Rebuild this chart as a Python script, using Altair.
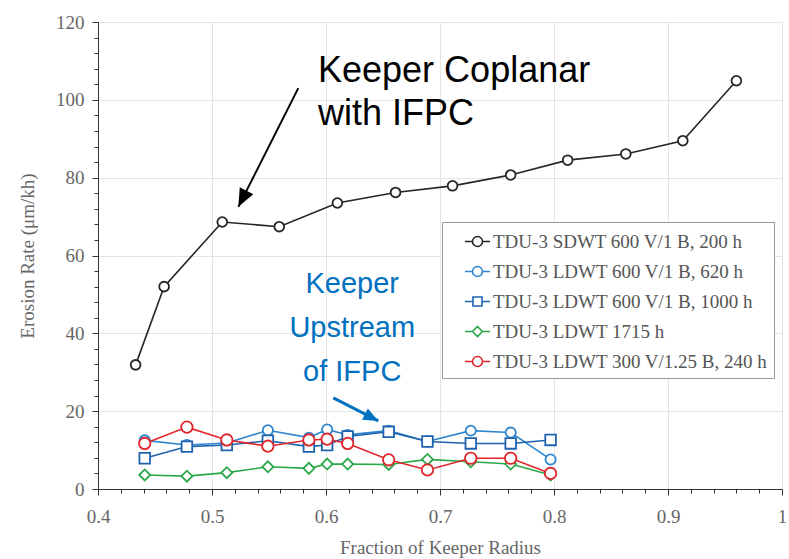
import altair as alt
import pandas as pd

# ---------------- data ----------------
series_names = [
    "TDU-3 SDWT 600 V/1 B, 200 h",
    "TDU-3 LDWT 600 V/1 B, 620 h",
    "TDU-3 LDWT 600 V/1 B, 1000 h",
    "TDU-3 LDWT 1715 h",
    "TDU-3 LDWT 300 V/1.25 B, 240 h",
]
series_colors = ["#262626", "#2f86cf", "#1f62ae", "#2ba84a", "#e0262c"]
series_shapes = ["circle", "circle", "square", "diamond", "circle"]
series_sizes = [95, 130, 130, 110, 130]

sdwt_x = [0.433, 0.458, 0.509, 0.559, 0.610, 0.661, 0.711, 0.762, 0.812, 0.863, 0.913, 0.960]
sdwt_y = [31.9, 52.0, 68.6, 67.4, 73.5, 76.2, 77.9, 80.7, 84.5, 86.1, 89.5, 104.9]

ldwt_x = [0.441, 0.478, 0.513, 0.549, 0.585, 0.601, 0.619, 0.655, 0.689, 0.727, 0.762, 0.797]
ldwt620_y = [12.5, 11.3, 11.8, 15.1, 13.2, 15.3, 13.9, 15.0, 12.2, 15.0, 14.5, 7.6]
ldwt1000_y = [7.9, 10.9, 11.3, 12.4, 10.9, 11.3, 13.5, 14.7, 12.2, 11.7, 11.7, 12.6]
ldwt1715_y = [3.6, 3.3, 4.2, 5.7, 5.3, 6.4, 6.4, 6.3, 7.6, 7.0, 6.4, 3.6]
ldwt240_y = [11.7, 15.9, 12.6, 11.0, 12.6, 12.8, 11.7, 7.5, 4.9, 7.9, 7.9, 4.0]

x_ticks = [0.4, 0.5, 0.6, 0.7, 0.8, 0.9, 1.0]
x_minor = [round(0.4 + 0.02 * i, 2) for i in range(31)]
y_ticks = [0, 20, 40, 60, 80, 100, 120]
y_minor = list(range(0, 121, 4))

# annotation positions (data units)
coplanar_text = ["Keeper Coplanar", "with IFPC"]
coplanar_pos = (0.593, 104.6)
coplanar_arrow = (0.5757, 103.0, 0.5231, 72.5)
upstream_text = ["Keeper", "Upstream", "of IFPC"]
upstream_pos = (0.623, 50.4)
upstream_arrow = (0.6064, 23.4, 0.6459, 17.5)

# legend symbols: marker with short line tails
legend_paths = [
    "M-1,0L-0.4,0M0.4,0L1,0M0.4,0A0.4,0.4,0,1,1,-0.4,0A0.4,0.4,0,1,1,0.4,0Z",
    "M-1,0L-0.4,0M0.4,0L1,0M0.4,0A0.4,0.4,0,1,1,-0.4,0A0.4,0.4,0,1,1,0.4,0Z",
    "M-1,0L-0.36,0M0.36,0L1,0M-0.36,-0.36L0.36,-0.36L0.36,0.36L-0.36,0.36Z",
    "M-1,0L-0.4,0M0.4,0L1,0M0,-0.4L0.4,0L0,0.4L-0.4,0Z",
    "M-1,0L-0.4,0M0.4,0L1,0M0.4,0A0.4,0.4,0,1,1,-0.4,0A0.4,0.4,0,1,1,0.4,0Z",
]

rows = []
for x, y in zip(sdwt_x, sdwt_y):
    rows.append({"series": series_names[0], "x": x, "y": y})
for name, ys in zip(series_names[1:], [ldwt620_y, ldwt1000_y, ldwt1715_y, ldwt240_y]):
    for x, y in zip(ldwt_x, ys):
        rows.append({"series": name, "x": x, "y": y})
df = pd.DataFrame(rows)

FONT_SERIF = "Liberation Serif"
FONT_SANS = "Liberation Sans"
GRAY = "#666666"

xscale = alt.Scale(domain=[0.4, 1.0], nice=False, zero=False)
yscale = alt.Scale(domain=[0, 120], nice=False)

x_axis = alt.Axis(
    orient="bottom",
    values=x_ticks, format="~g", title="Fraction of Keeper Radius",
    grid=True, gridColor="#e4e4e4", domainColor="#333", tickColor="#333",
    tickSize=6, labelFont=FONT_SERIF, labelFontSize=19, labelColor=GRAY,
    labelPadding=12, titleFont=FONT_SERIF, titleFontSize=19, titleColor=GRAY,
    titleFontWeight="normal", titlePadding=12, labelFlush=False,
)
y_axis = alt.Axis(
    orient="left",
    values=y_ticks, title="Erosion Rate (μm/kh)",
    grid=True, gridColor="#e4e4e4", domainColor="#333", tickColor="#333",
    tickSize=6, labelFont=FONT_SERIF, labelFontSize=19, labelColor=GRAY,
    labelPadding=8, titleFont=FONT_SERIF, titleFontSize=19, titleColor=GRAY,
    titleFontWeight="normal", titlePadding=18,
)

color_scale = alt.Scale(domain=series_names, range=series_colors)

base = alt.Chart(df)

lines = base.mark_line(strokeWidth=1.6).encode(
    x=alt.X("x:Q", scale=xscale, axis=x_axis),
    y=alt.Y("y:Q", scale=yscale, axis=y_axis),
    color=alt.Color("series:N", scale=color_scale, legend=None),
    detail="series:N",
)

points = base.mark_point(filled=False, fill="white", fillOpacity=1, strokeWidth=1.8, opacity=1).encode(
    x="x:Q",
    y="y:Q",
    stroke=alt.Stroke("series:N", scale=color_scale, legend=None),
    shape=alt.Shape("series:N", scale=alt.Scale(domain=series_names, range=series_shapes), legend=None),
    size=alt.Size("series:N", scale=alt.Scale(domain=series_names, range=series_sizes), legend=None),
)

# annotations
arrow1 = alt.Chart(pd.DataFrame([{"x": coplanar_arrow[0], "y": coplanar_arrow[1],
                                  "x2": coplanar_arrow[2], "y2": coplanar_arrow[3]}])).mark_rule(
    color="black", strokeWidth=2).encode(x="x:Q", y="y:Q", x2="x2:Q", y2="y2:Q")
head_path = "M0,0L-0.42,1L0.42,1Z"
head1 = alt.Chart(pd.DataFrame([{"x": coplanar_arrow[2], "y": coplanar_arrow[3]}])).mark_point(
    shape=head_path, filled=True, color="black", size=1300, angle=207, opacity=1).encode(x="x:Q", y="y:Q")
arrow2 = alt.Chart(pd.DataFrame([{"x": upstream_arrow[0], "y": upstream_arrow[1],
                                  "x2": upstream_arrow[2], "y2": upstream_arrow[3]}])).mark_rule(
    color="#0070c0", strokeWidth=3).encode(x="x:Q", y="y:Q", x2="x2:Q", y2="y2:Q")
head2 = alt.Chart(pd.DataFrame([{"x": upstream_arrow[2], "y": upstream_arrow[3]}])).mark_point(
    shape=head_path, filled=True, color="#0070c0", size=900, angle=117, opacity=1).encode(x="x:Q", y="y:Q")

text1 = alt.Chart(pd.DataFrame([{"x": coplanar_pos[0], "y": coplanar_pos[1], "t": coplanar_text}])).mark_text(
    font=FONT_SANS, fontSize=36, color="black", align="left", baseline="alphabetic", lineHeight=43).encode(
    x="x:Q", y="y:Q", text="t")
text2 = alt.Chart(pd.DataFrame([{"x": upstream_pos[0], "y": upstream_pos[1], "t": upstream_text}])).mark_text(
    font=FONT_SANS, fontSize=29, color="#0070c0", align="center", baseline="alphabetic", lineHeight=44).encode(
    x="x:Q", y="y:Q", text="t")

main = alt.layer(lines, points, arrow1, head1, arrow2, head2, text1, text2)

# legend + minor ticks layer (draws no marks)
legend_layer = base.transform_filter("false").mark_point(filled=False, strokeWidth=1.6, opacity=1).encode(
    x=alt.X("x:Q", scale=xscale, axis=alt.Axis(orient="bottom", values=x_minor, labels=False, domain=False,
                                               grid=False, tickSize=4, tickColor="#333", title=None)),
    y=alt.Y("y:Q", scale=yscale, axis=alt.Axis(orient="left", values=y_minor, labels=False, domain=False,
                                               grid=False, tickSize=4, tickColor="#333", title=None)),
    color=alt.Color("series:N", scale=color_scale, legend=alt.Legend(
        orient="none", legendX=344, legendY=200, title=None,
        fillColor="white", strokeColor="#999", padding=6,
        labelFont=FONT_SERIF, labelFontSize=19, labelColor="#555", labelLimit=500,
        symbolSize=625, symbolStrokeWidth=1.6, rowPadding=6, labelOffset=2,
        symbolOffset=16,
    )),
    shape=alt.Shape("series:N", scale=alt.Scale(domain=series_names, range=legend_paths), legend=alt.Legend(
        orient="none", legendX=344, legendY=200, title=None)),
)

chart = alt.layer(legend_layer, main).resolve_axis(
    x="independent", y="independent"
).resolve_scale(color="independent", shape="independent").properties(
    width=684, height=467,
    autosize=alt.AutoSizeParams(type="none"),
    padding={"left": 98, "top": 22, "right": 7, "bottom": 70},
    background="white",
).configure_view(stroke=None)

chart.save("out.html", embed_options={"renderer": "svg", "actions": False})
